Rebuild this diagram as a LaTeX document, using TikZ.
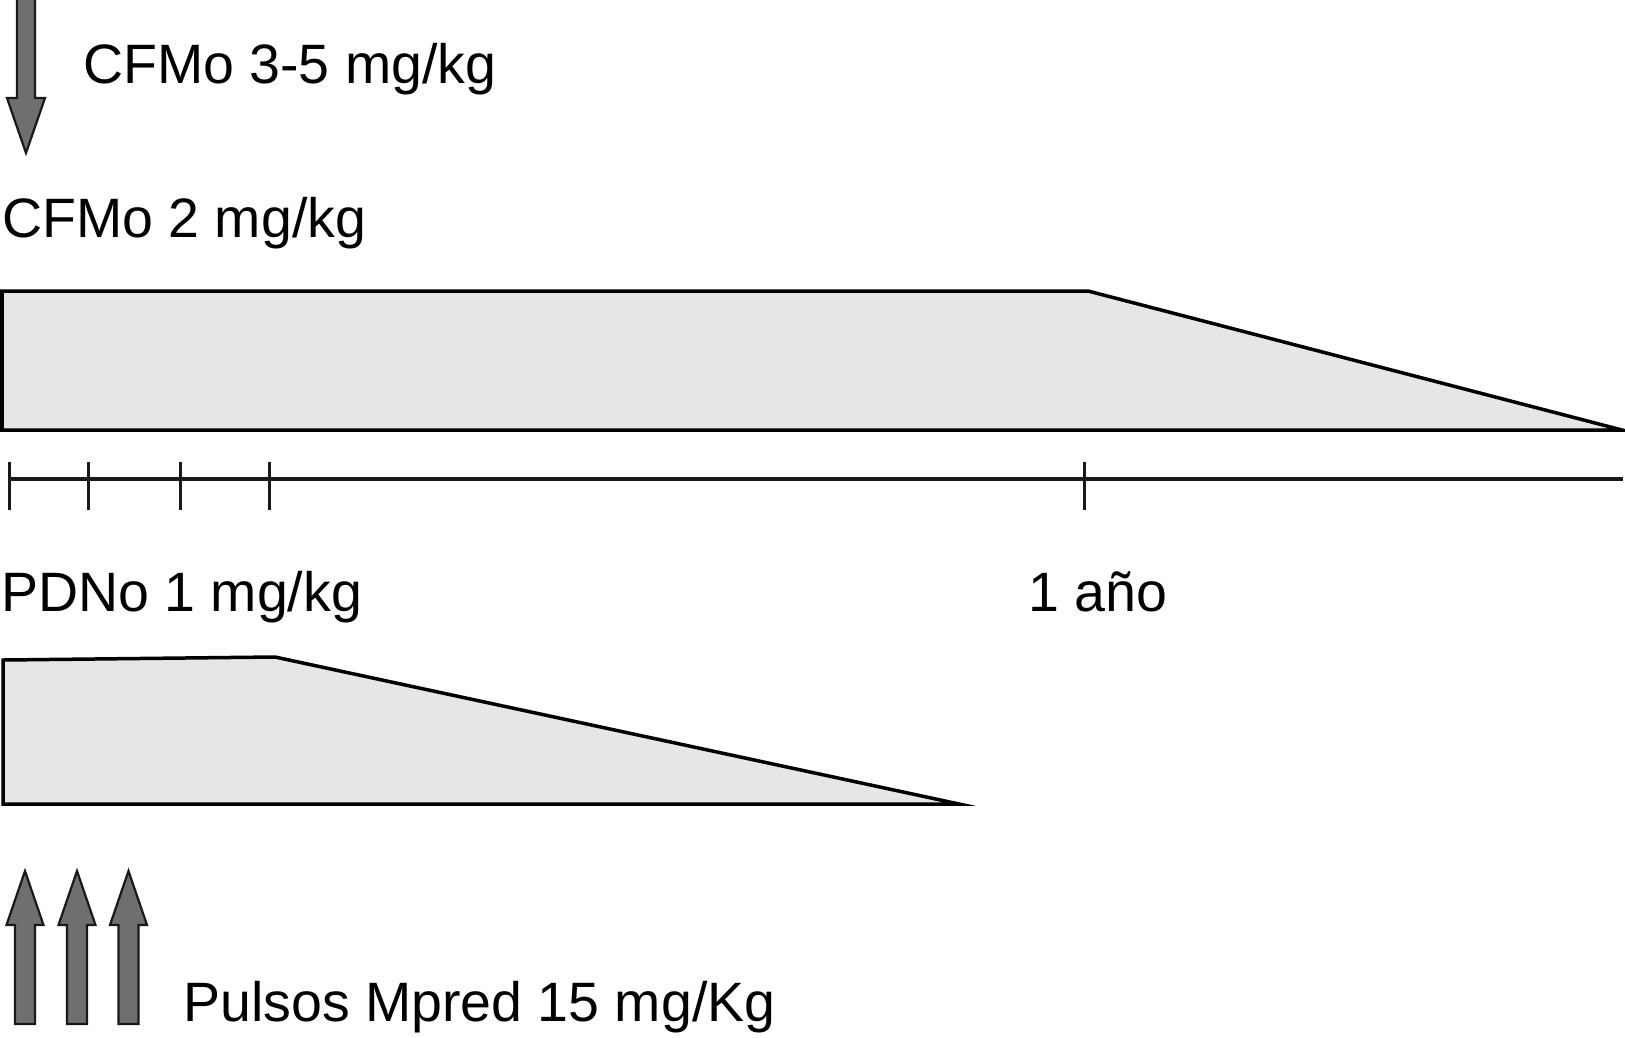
\documentclass[tikz,border=0pt]{standalone}
\usepackage{fontspec}
\setmainfont{Liberation Sans}
\definecolor{boxfill}{HTML}{E6E6E6}
\definecolor{arrowfill}{HTML}{6F6F6F}
\begin{document}
\begin{tikzpicture}[x=1pt,y=-1pt,
  doseshape/.style={draw=black,line width=3.5pt,fill=boxfill,line join=miter},
  fatarrow/.style={draw=black!90,line width=2.2pt,fill=arrowfill,line join=miter},
  axisline/.style={draw=black!90,line width=3.2pt},
  tickmark/.style={draw=black!90,line width=3pt},
  lbl/.style={anchor=base west,inner sep=0pt,font=\fontsize{55.5}{66}\selectfont}]
\useasboundingbox (0,0) rectangle (1625,1037);
% top arrow
\draw[fatarrow] (17,-3) -- (35,-3) -- (35,98) -- (45,98) -- (26,153) -- (7,98) -- (17,98) -- cycle;
\node[lbl] (cfmo35) at (83,83) {CFMo 3-5 mg/kg};
\node[lbl] (cfmo2) at (2,237) {CFMo 2 mg/kg};
% CFMo dose band
\draw[doseshape] (2,291) -- (1088,291) -- (1622,430) -- (2,430) -- cycle;
% timeline
\coordinate (tl0) at (9,479);
\coordinate (tl1) at (1623,479);
\draw[axisline] (tl0) -- (tl1);
\foreach \tx in {9,88,180,269,1084}{
  \draw[tickmark] (\tx,462) -- (\tx,510);
}
\node[lbl] (pdno) at (1,611) {PDNo 1 mg/kg};
\node[lbl] (anio) at (1028,611) {1 año};
% PDNo dose band
\draw[doseshape] (3,660) -- (275,657) -- (959,804) -- (3,804) -- cycle;
% pulse arrows
\foreach \c in {25,77,128.5}{
  \draw[fatarrow] (\c-10,1024) -- (\c-10,925) -- (\c-18.5,925) -- (\c,871) -- (\c+18.5,925) -- (\c+10,925) -- (\c+10,1024) -- cycle;
}
\node[lbl] (pulsos) at (183,1021) {Pulsos Mpred 15 mg/Kg};
\end{tikzpicture}
\end{document}
